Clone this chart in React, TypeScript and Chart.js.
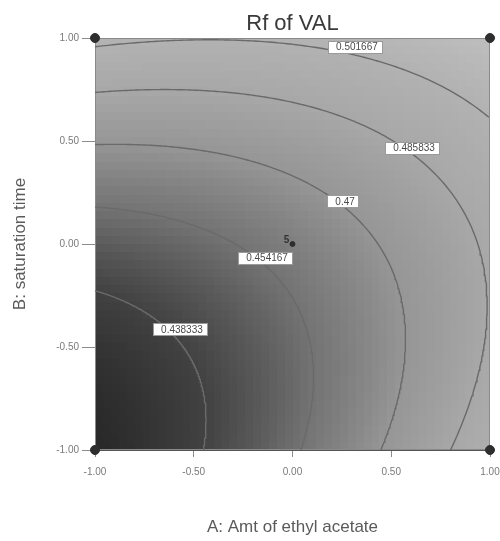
import React, { useEffect, useRef } from "react";
import { Chart, registerables } from "chart.js";
Chart.register(...registerables);

const TITLE = "Rf of VAL";
const X_TITLE = "A: Amt of ethyl acetate";
const Y_TITLE = "B: saturation time";
const TICKS = [-1, -0.5, 0, 0.5, 1];
const CONTOUR_LEVELS = [0.438333, 0.454167, 0.47, 0.485833, 0.501667];
// points, coded units (A, B)
const CONTOUR_0 = [[-1, -0.223], [-0.772, -0.335], [-0.57, -0.417], [-0.45, -0.75], [-0.46, -1.0]];
const CONTOUR_1 = [[-1, 0.18], [-0.332, 0.019], [-0.139, -0.068], [0.023, -0.272], [0.124, -0.612], [-0.003, -1.0]];
const CONTOUR_2 = [[-1, 0.481], [-0.165, 0.393], [0.154, 0.248], [0.256, 0.204], [0.458, -0.078], [0.544, -0.306], [0.57, -0.442], [0.458, -1.0]];
const CONTOUR_3 = [[-1, 0.738], [-0.215, 0.723], [0.458, 0.49], [0.605, 0.466], [0.965, -0.189], [0.975, -0.354], [0.823, -1.0]];
const CONTOUR_4 = [[-1, 0.966], [-0.5, 0.963], [0.0, 0.957], [0.124, 0.951], [0.316, 0.956], [0.63, 0.83], [0.797, 0.748], [1, 0.592]];
const CONTOUR_POINTS = [CONTOUR_0, CONTOUR_1, CONTOUR_2, CONTOUR_3, CONTOUR_4];
const LABEL_AT = [[-0.57, -0.417], [-0.139, -0.068], [0.256, 0.204], [0.605, 0.466], [0.316, 0.956]];
const LABEL_TEXT = ["0.438333", "0.454167", "0.47", "0.485833", "0.501667"];
const DESIGN_POINTS = [{ x: -1, y: -1 }, { x: 1, y: -1 }, { x: -1, y: 1 }, { x: 1, y: 1 }];
const CENTER_POINT = { x: 0, y: 0 };
const CENTER_REPS = "5";
// gray ramp: response value -> gray intensity
const RAMP_VALUES = [0.42, 0.438, 0.454, 0.47, 0.486, 0.502, 0.52];
const RAMP_GRAYS = [30, 65, 115, 150, 168, 178, 192];

function fitQuadratic() {
  const rows: number[][] = [];
  const ys: number[] = [];
  CONTOUR_POINTS.forEach((pts, li) => {
    pts.forEach(([a, b]) => {
      rows.push([1, a, b, a * b, a * a, b * b]);
      ys.push(CONTOUR_LEVELS[li]);
    });
  });
  const n = 6;
  const M = Array.from({ length: n }, () => new Array(n + 1).fill(0));
  rows.forEach((r, k) => {
    for (let i = 0; i < n; i++) {
      for (let j = 0; j < n; j++) M[i][j] += r[i] * r[j];
      M[i][n] += r[i] * ys[k];
    }
  });
  for (let c = 0; c < n; c++) {
    let p = c;
    for (let r = c + 1; r < n; r++) if (Math.abs(M[r][c]) > Math.abs(M[p][c])) p = r;
    [M[c], M[p]] = [M[p], M[c]];
    for (let r = 0; r < n; r++) {
      if (r === c) continue;
      const f = M[r][c] / M[c][c];
      for (let j = c; j <= n; j++) M[r][j] -= f * M[c][j];
    }
  }
  return M.map((row, i) => row[n] / row[i]);
}

const COEF = fitQuadratic();
const model = (a: number, b: number) =>
  COEF[0] + COEF[1] * a + COEF[2] * b + COEF[3] * a * b + COEF[4] * a * a + COEF[5] * b * b;

function grayFor(v: number) {
  if (v <= RAMP_VALUES[0]) return RAMP_GRAYS[0];
  for (let i = 1; i < RAMP_VALUES.length; i++) {
    if (v <= RAMP_VALUES[i]) {
      const t = (v - RAMP_VALUES[i - 1]) / (RAMP_VALUES[i] - RAMP_VALUES[i - 1]);
      return RAMP_GRAYS[i - 1] + t * (RAMP_GRAYS[i] - RAMP_GRAYS[i - 1]);
    }
  }
  return RAMP_GRAYS[RAMP_GRAYS.length - 1];
}

function traceLevel(level: number) {
  const pts: { x: number; y: number }[] = [];
  const N = 240;
  for (let k = 0; k <= N; k++) {
    const th = (k / N) * (Math.PI / 2);
    const c = Math.cos(th), s = Math.sin(th);
    const rmax = Math.min(c > 1e-9 ? 2 / c : 1e9, s > 1e-9 ? 2 / s : 1e9);
    const f0 = model(-1, -1) - level;
    const f1 = model(-1 + rmax * c, -1 + rmax * s) - level;
    if (f0 * f1 > 0) continue;
    let lo = 0, hi = rmax;
    for (let it = 0; it < 50; it++) {
      const mid = (lo + hi) / 2;
      const fm = model(-1 + mid * c, -1 + mid * s) - level;
      if ((fm > 0) === (f1 > 0)) hi = mid; else lo = mid;
    }
    const r = (lo + hi) / 2;
    pts.push({ x: Math.max(-1, Math.min(1, -1 + r * c)), y: Math.max(-1, Math.min(1, -1 + r * s)) });
  }
  return pts;
}

const FONT = "'Liberation Sans', Arial, sans-serif";

const shadingPlugin = {
  id: "shading",
  beforeDatasetsDraw(chart: any) {
    const { ctx, scales } = chart;
    const xs = scales.x, ys = scales.y;
    const NX = 50, NY = 50;
    ctx.save();
    for (let i = 0; i < NX; i++) {
      const a0 = -1 + (2 * i) / NX, a1 = -1 + (2 * (i + 1)) / NX;
      const px0 = Math.round(xs.getPixelForValue(a0)), px1 = Math.round(xs.getPixelForValue(a1));
      for (let j = 0; j < NY; j++) {
        const b0 = -1 + (2 * j) / NY, b1 = -1 + (2 * (j + 1)) / NY;
        const py0 = Math.round(ys.getPixelForValue(b1)), py1 = Math.round(ys.getPixelForValue(b0));
        const g = Math.round(grayFor(model((a0 + a1) / 2, (b0 + b1) / 2)));
        ctx.fillStyle = `rgb(${g},${g},${g})`;
        ctx.fillRect(px0, py0, px1 - px0, py1 - py0);
      }
    }
    ctx.strokeStyle = "#8a8a8a";
    ctx.lineWidth = 1;
    const ca = chart.chartArea;
    ctx.strokeRect(ca.left + 0.5, ca.top + 0.5, ca.right - ca.left - 1, ca.bottom - ca.top - 1);
    ctx.restore();
  },
};

const labelPlugin = {
  id: "labels",
  afterDatasetsDraw(chart: any) {
    const { ctx, scales } = chart;
    ctx.save();
    ctx.font = `10px ${FONT}`;
    ctx.textBaseline = "middle";
    ctx.textAlign = "center";
    LABEL_AT.forEach(([a, b], i) => {
      const px = scales.x.getPixelForValue(a), py = scales.y.getPixelForValue(b);
      const t = LABEL_TEXT[i];
      const w = ctx.measureText(t).width + 13, h = 13;
      ctx.fillStyle = "#ffffff";
      ctx.fillRect(Math.round(px - w / 2), Math.round(py - h / 2), Math.round(w), h);
      ctx.strokeStyle = "#9a9a9a";
      ctx.lineWidth = 1;
      ctx.strokeRect(Math.round(px - w / 2) + 0.5, Math.round(py - h / 2) + 0.5, Math.round(w) - 1, h - 1);
      ctx.fillStyle = "#4a4a4a";
      ctx.fillText(t, px + 2, py + 0.5);
    });
    const cx = scales.x.getPixelForValue(CENTER_POINT.x), cy = scales.y.getPixelForValue(CENTER_POINT.y);
    ctx.fillStyle = "#333";
    ctx.font = `bold 10px ${FONT}`;
    ctx.fillText(CENTER_REPS, cx - 6, cy - 4);
    const ca = chart.chartArea;
    ctx.font = `22px ${FONT}`;
    ctx.fillStyle = "#3a3a3a";
    ctx.textBaseline = "alphabetic";
    ctx.fillText(TITLE, (ca.left + ca.right) / 2, 30);
    ctx.restore();
  },
};

export default function App() {
  const ref = useRef<HTMLCanvasElement>(null);
  useEffect(() => {
    if (!ref.current) return;
    const contourSets = CONTOUR_LEVELS.map((lv) => ({
      type: "scatter" as const,
      data: traceLevel(lv),
      showLine: true,
      pointRadius: 0,
      borderColor: "#6a6a6a",
      borderWidth: 1.4,
      tension: 0,
    }));
    const chart = new Chart(ref.current, {
      type: "scatter",
      data: {
        datasets: [
          ...contourSets,
          {
            type: "scatter",
            data: [...DESIGN_POINTS, CENTER_POINT],
            pointRadius: [4.5, 4.5, 4.5, 4.5, 2.5],
            pointBackgroundColor: "#2e2e2e",
            pointBorderColor: "#2e2e2e",
            clip: false,
          } as any,
        ],
      },
      options: {
        animation: false,
        responsive: false,
        events: [],
        layout: { padding: { top: 38, right: 10, left: 0, bottom: 0 } },
        plugins: { legend: { display: false }, tooltip: { enabled: false }, title: { display: false } },
        scales: {
          x: {
            type: "linear",
            min: -1,
            max: 1,
            afterBuildTicks: (s: any) => { s.ticks = TICKS.map((v) => ({ value: v })); },
            afterFit: (s: any) => { s.height = 91; s.paddingLeft = 0; s.paddingRight = 0; },
            ticks: { callback: (v: any) => Number(v).toFixed(2), font: { size: 10, family: FONT }, color: "#7a7a7a", padding: 9, maxRotation: 0 },
            grid: { drawOnChartArea: false, drawTicks: true, tickLength: 7, color: "#8a8a8a" },
            border: { display: true, color: "#555" },
            title: { display: true, text: X_TITLE, font: { size: 17, family: FONT }, color: "#5a5a5a", padding: { top: 0, bottom: 3.5 } },
          },
          y: {
            type: "linear",
            min: -1,
            max: 1,
            afterBuildTicks: (s: any) => { s.ticks = TICKS.map((v) => ({ value: v })); },
            afterFit: (s: any) => { s.width = 95; s.paddingTop = 0; s.paddingBottom = 0; },
            ticks: { callback: (v: any) => Number(v).toFixed(2), font: { size: 10, family: FONT }, color: "#7a7a7a", padding: 3 },
            grid: { drawOnChartArea: false, drawTicks: true, tickLength: 13, color: "#8a8a8a" },
            border: { display: true, color: "#555" },
            title: { display: true, text: Y_TITLE, font: { size: 17, family: FONT }, color: "#5a5a5a", padding: { top: 9.8, bottom: 0 } },
          },
        },
      },
      plugins: [shadingPlugin, labelPlugin],
    } as any);
    return () => chart.destroy();
  }, []);
  return (
    <div style={{ position: "absolute", left: 0, top: 0, width: 500, height: 541, background: "#fff" }}>
      <canvas ref={ref} width={500} height={541} style={{ display: "block", width: 500, height: 541 }} />
    </div>
  );
}
